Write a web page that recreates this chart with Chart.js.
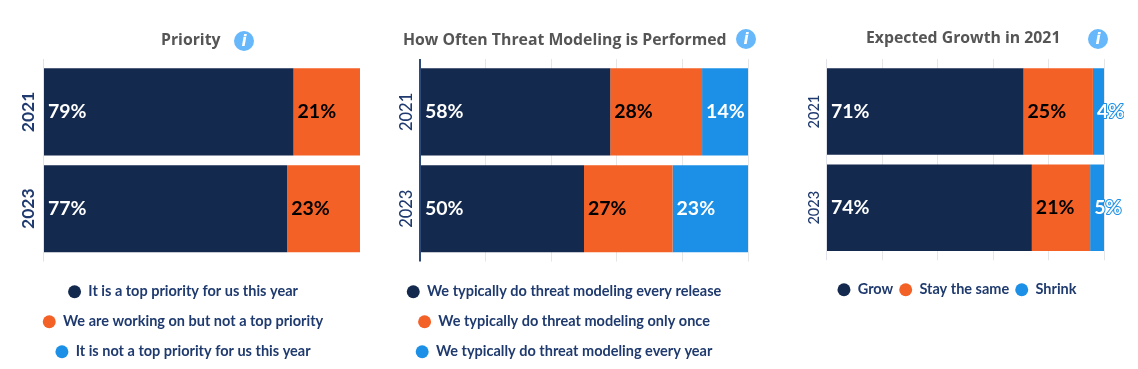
<!DOCTYPE html>
<html>
<head>
<meta charset="utf-8">
<script src="https://cdn.jsdelivr.net/npm/chart.js@4"></script>
<style>
  html, body { margin: 0; background: #fff; }
  #page { position: relative; width: 1138px; height: 369px; overflow: hidden; }
  .box { position: absolute; top: 0; height: 369px; }
  .titulo { position: absolute; font: 700 15.8px "Open Sans", sans-serif; color: #555; white-space: nowrap; line-height: 20px; }
  .info { position: absolute; width: 20px; height: 20px; border-radius: 50%; background: #66b8fb; color: #fff;
          font: italic 700 15px/20px "DejaVu Sans", sans-serif; text-align: center; }
</style>
</head>
<body>
<div id="page">
  <div class="box" style="left:0;width:366px"><canvas id="graf1"></canvas></div>
  <div class="box" style="left:360px;width:408px"><canvas id="graf2"></canvas></div>
  <div class="box" style="left:790px;width:334px"><canvas id="graf3"></canvas></div>

  <div class="titulo" style="left:161px;top:29px">Priority</div>
  <div class="info" style="left:234px;top:31px">i</div>
  <div class="titulo" style="left:403px;top:29px">How Often Threat Modeling is Performed</div>
  <div class="info" style="left:736px;top:29px">i</div>
  <div class="titulo" style="left:866px;top:27px">Expected Growth in 2021</div>
  <div class="info" style="left:1088px;top:29px">i</div>
</div>

<script>
const years = ["2021", "2023"];

const priorityNames = ["It is a top priority for us this year", "We are working on but not a top priority", "It is not a top priority for us this year"];
const priorityTop = [79, 77];
const priorityWorking = [21, 23];
const priorityNot = [0, 0];

const oftenNames = ["We typically do threat modeling every release", "We typically do threat modeling only once", "We typically do threat modeling every year"];
const oftenRelease = [58, 50];
const oftenOnce = [28, 27];
const oftenYear = [14, 23];

const growthNames = ["Grow", "Stay the same", "Shrink"];
const growthGrow = [71, 74];
const growthSame = [25, 21];
const growthShrink = [4, 5];

const NAVY = "#14294e", ORANGE = "#f36126", BLUE = "#1c90e6";
const LABEL = "#1f3a6e", GRID = "#e6e6e6";

// etiquetas dentro de cada barra, al inicio del segmento
const barLabels = {
  id: "barLabels",
  // el eje recorta sus ticks a su caja: se abre hasta el borde del canvas
  afterLayout(chart) {
    chart.scales.y.left = 0;
  },
  afterDatasetsDraw(chart) {
    const ctx = chart.ctx;
    ctx.save();
    ctx.font = '700 19.5px Lato, sans-serif';
    ctx.textBaseline = "middle";
    ctx.textAlign = "left";
    ctx.lineJoin = "round";
    chart.data.datasets.forEach((ds, i) => {
      chart.getDatasetMeta(i).data.forEach((bar, j) => {
        if (!ds.data[j]) return;
        const txt = ds.data[j] + "%";
        const x = bar.base + 4, y = bar.y;
        if (i === 2) {
          ctx.strokeStyle = BLUE;
          ctx.lineWidth = 2;
          ctx.strokeText(txt, x, y);
        }
        ctx.fillStyle = i === 1 ? "#000" : "#fff";
        ctx.fillText(txt, x, y);
      });
    });
    ctx.restore();
  }
};

function makeChart(id, names, series, cfg) {
  const serie = (k, color) => ({
    label: names[k], data: series[k], backgroundColor: color,
    barPercentage: 0.9, categoryPercentage: 1, stack: "s"
  });
  const gridColor = c => (c.tick && c.tick.value === 0 ? cfg.axisColor : (cfg.showGrid ? GRID : "transparent"));
  const xBase = {
    stacked: true, min: 0, max: 100,
    ticks: { display: false, stepSize: 20 },
    border: { display: false },
    grid: { color: gridColor, tickColor: gridColor, lineWidth: c => (c.tick && c.tick.value === 0 ? cfg.axisWidth : 1), tickLength: 4.5 }
  };
  return new Chart(document.getElementById(id), {
    type: "bar",
    data: {
      labels: years,
      datasets: [serie(0, NAVY), serie(1, ORANGE), serie(2, BLUE)]
    },
    options: {
      indexAxis: "y",
      responsive: false,
      animation: false,
      layout: { padding: { top: 59, left: cfg.left, right: cfg.right, bottom: cfg.bottom } },
      plugins: {
        tooltip: { enabled: false },
        legend: {
          position: "bottom",
          onClick: null,
          labels: {
            usePointStyle: true, pointStyle: "circle", pointStyleWidth: 13, boxHeight: 9.2,
            padding: cfg.legendPad, color: LABEL,
            font: { family: "Lato, sans-serif", size: 14.5, weight: "700" }
          }
        }
      },
      scales: {
        x: { ...xBase, position: "bottom", afterFit(a) { a.height = cfg.xHeight; } },
        xTop: { ...xBase, axis: "x", position: "top", grid: { ...xBase.grid, drawOnChartArea: false }, afterFit(a) { a.height = 4.5; } },
        y: {
          stacked: true,
          border: { display: false },
          grid: { display: false },
          afterFit(a) { a.width = cfg.plotLeft; },
          ticks: {
            color: LABEL, minRotation: 90, maxRotation: 90, crossAlign: "center", padding: cfg.tickPad,
            font: { family: "Lato, sans-serif", size: cfg.tickSize, weight: cfg.tickWeight }
          }
        }
      }
    },
    plugins: [barLabels]
  });
}

function fixSize(id, w) {
  const c = document.getElementById(id);
  c.width = w; c.height = 369;
  c.style.width = w + "px"; c.style.height = "369px";
}
fixSize("graf1", 366);
fixSize("graf2", 408);
fixSize("graf3", 334);

makeChart("graf1", priorityNames, [priorityTop, priorityWorking, priorityNot], {
  left: 6, plotLeft: 37.5, right: 6, bottom: 0, xHeight: 11.9, legendPad: 15.5, showGrid: false,
  axisColor: "#dfe2e8", axisWidth: 1, tickSize: 17.5, tickWeight: "700", tickPad: -13
});
makeChart("graf2", oftenNames, [oftenRelease, oftenOnce, oftenYear], {
  left: 20, plotLeft: 40, right: 20, bottom: 0, xHeight: 11.9, legendPad: 15.5, showGrid: true,
  axisColor: "#2d4a7a", axisWidth: 2, tickSize: 16.5, tickWeight: "500", tickPad: -14
});
makeChart("graf3", growthNames, [growthGrow, growthSame, growthShrink], {
  left: 20, plotLeft: 16.5, right: 20, bottom: 62, xHeight: 20.7, legendPad: 6, showGrid: true,
  axisColor: "#dfe2e8", axisWidth: 1, tickSize: 14.5, tickWeight: "500", tickPad: -12.5
});
</script>
</body>
</html>
